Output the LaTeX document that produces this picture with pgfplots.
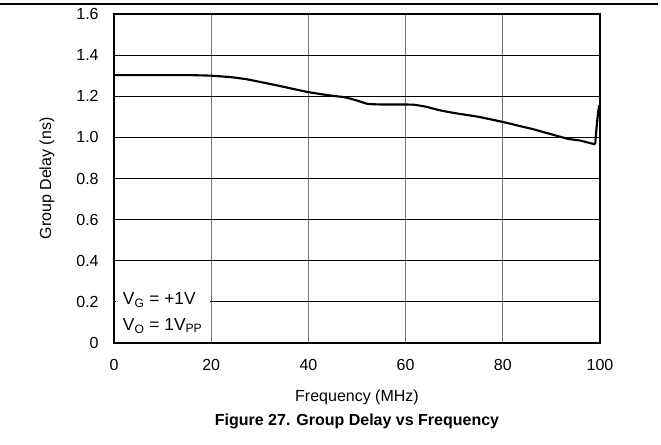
\documentclass[border=0pt]{standalone}
\usepackage{fontspec}
\setmainfont{Liberation Sans}
\usepackage{pgfplots}
\pgfplotsset{compat=1.18}
\begin{document}
\begin{tikzpicture}[x=1pt,y=1pt]
\useasboundingbox (-85.5,-75.75) rectangle (410.25,257.25);
\draw[line width=0.8pt] (-85.5,254.25) -- (408,254.25);
\begin{axis}[
  at={(0,0)}, anchor=south west,
  scale only axis, width=364.5pt, height=246.75pt,
  xmin=0, xmax=100, ymin=0, ymax=1.6,
  xtick={0,20,...,100}, ytick={0,0.2,0.4,0.6,0.8,1.0,1.2,1.4,1.6},
  yticklabels={0,0.2,0.4,0.6,0.8,1.0,1.2,1.4,1.6},
  /pgf/number format/assume math mode=true,
  tick style={draw=none},
  ticklabel style={font=\fontsize{12}{14}\selectfont},
  xticklabel style={yshift=-9pt},
  yticklabel style={xshift=-8pt},
  axis line style={line width=1.5pt},
  xmajorgrids, ymajorgrids,
  x grid style={draw=black!55, line width=0.8pt},
  y grid style={draw=black, line width=0.6pt},
  xlabel={Frequency (MHz)},
  ylabel={Group Delay (ns)},
  label style={font=\fontsize{12}{14}\selectfont},
  xlabel style={at={(axis description cs:0.5,-0.164)}, anchor=center},
  ylabel style={at={(axis description cs:-0.138,0.5)}, anchor=center},
  clip=false,
]
\addplot[black, line width=1.6pt, smooth, tension=0.3] coordinates {
(0,1.303) (5,1.303) (10,1.303) (15,1.303) (17,1.302) (20,1.300) (24,1.293)
(27.2,1.283) (30,1.270) (34.1,1.250) (37,1.235) (40,1.220) (44.4,1.204)
(47.5,1.195) (49.9,1.180) (52.2,1.163) (55,1.160) (58,1.160) (61.5,1.159)
(64,1.150) (67,1.132) (70.4,1.117) (75,1.100) (80,1.075) (83,1.058)
(86.2,1.040) (90,1.015) (93.4,0.993) (95.8,0.985) (97.5,0.975) (99.0,0.966)
};
\addplot[black, line width=1.6pt] coordinates {(99.0,0.966) (99.3,1.05) (99.6,1.12) (99.85,1.155)};
\node[fill=white, anchor=south west, inner sep=0pt, minimum width=70.5pt, minimum height=45pt, line width=0pt] at (axis cs:0.35,0.01) {};
\node[anchor=base west, inner sep=0pt, font=\fontsize{13}{15}\selectfont] at (axis cs:1.79,0.185) {V\textsubscript{G} = +1V};
\node[anchor=base west, inner sep=0pt, font=\fontsize{13}{15}\selectfont] at (axis cs:1.79,0.063) {V\textsubscript{O} = 1V\textsubscript{PP}};
\draw[line width=1.5pt] (axis cs:0,0) -- (axis cs:0,0.3);
\draw[line width=1.5pt] (axis cs:0,0) -- (axis cs:25,0);
\end{axis}
\node[font=\bfseries\fontsize{12}{14}\selectfont] at (182.25,-58.5) {Figure 27. Group Delay vs Frequency};
\end{tikzpicture}
\end{document}
